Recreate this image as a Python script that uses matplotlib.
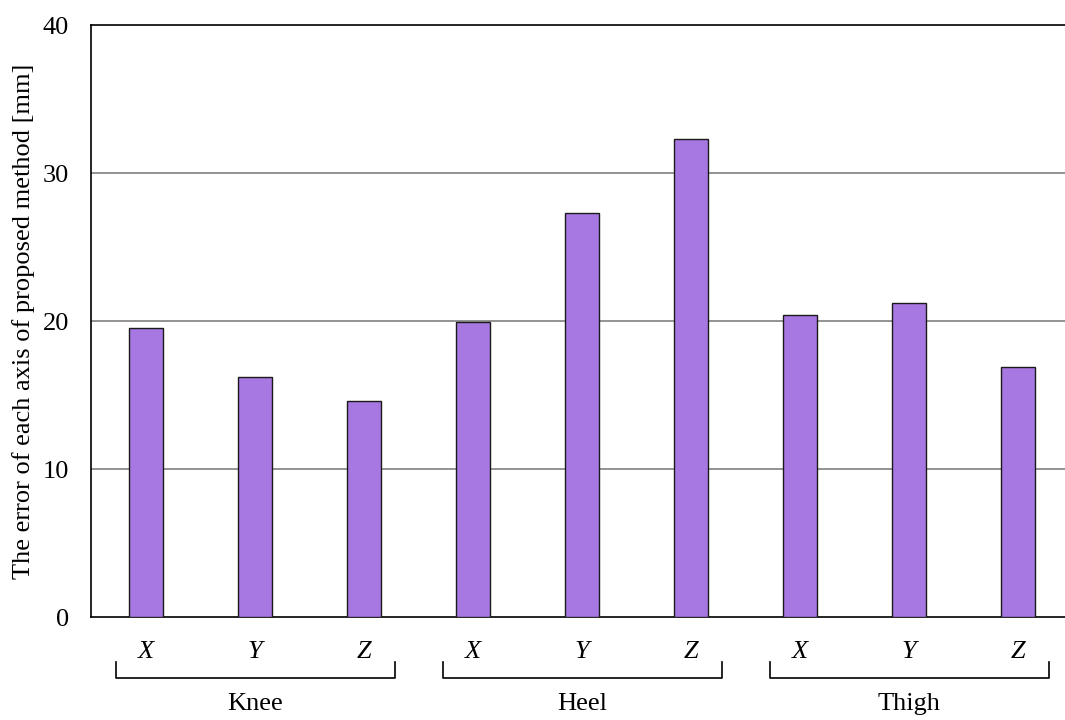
import matplotlib
matplotlib.use("Agg")
import matplotlib.pyplot as plt
from matplotlib.transforms import blended_transform_factory

plt.rcParams['font.family'] = ['Liberation Serif', 'DejaVu Serif']

groups = ["Knee", "Heel", "Thigh"]
axes_names = ["X", "Y", "Z"]
errors = [19.5, 16.2, 14.6,
          19.9, 27.3, 32.3,
          20.4, 21.2, 16.9]
y_ticks = [0, 10, 20, 30, 40]

fig = plt.figure(figsize=(10.65, 7.2), dpi=100)
ax = fig.add_axes([91 / 1065, 1 - 617 / 720, (1065 - 91) / 1065, (617 - 25) / 720])

positions = list(range(len(errors)))
ax.bar(positions, errors, width=0.31, color="#A878E2", edgecolor="#1a1a1a",
       linewidth=1.0, zorder=3)

ax.set_ylim(0, 40)
ax.set_xlim(-0.505, 8.43)
ax.set_yticks(y_ticks)
ax.set_yticklabels([str(t) for t in y_ticks], fontsize=19)
ax.set_xticks(positions)
ax.set_xticklabels(axes_names * len(groups), fontsize=19, style="italic")
ax.tick_params(axis="both", length=0)
ax.tick_params(axis="x", pad=17)
ax.tick_params(axis="y", pad=16)

for t in y_ticks[1:-1]:
    ax.axhline(t, color="#8a8a8a", linewidth=1.3, zorder=1)

for side in ["left", "top", "bottom"]:
    ax.spines[side].set_color("black")
    ax.spines[side].set_linewidth(1.2)
ax.spines["right"].set_visible(False)

ax.set_ylabel("The error of each axis of proposed method [mm]", fontsize=19)
ax.yaxis.set_label_coords((35 - 91) / 974, 0.5)

# group brackets below the axis labels
trans = blended_transform_factory(ax.transData, fig.transFigure)
y_line = 1 - 678 / 720
y_tip = 1 - 662 / 720
for gi, name in enumerate(groups):
    x0 = gi * 3 - 0.28
    x1 = gi * 3 + 2 + 0.28
    ax.plot([x0, x0, x1, x1], [y_tip, y_line, y_line, y_tip], transform=trans,
            color="black", linewidth=1.2, clip_on=False)
    ax.text(gi * 3 + 1, 1 - 704 / 720, name, transform=trans, ha="center",
            va="center", fontsize=19)

fig.savefig("out.png", dpi=100)
